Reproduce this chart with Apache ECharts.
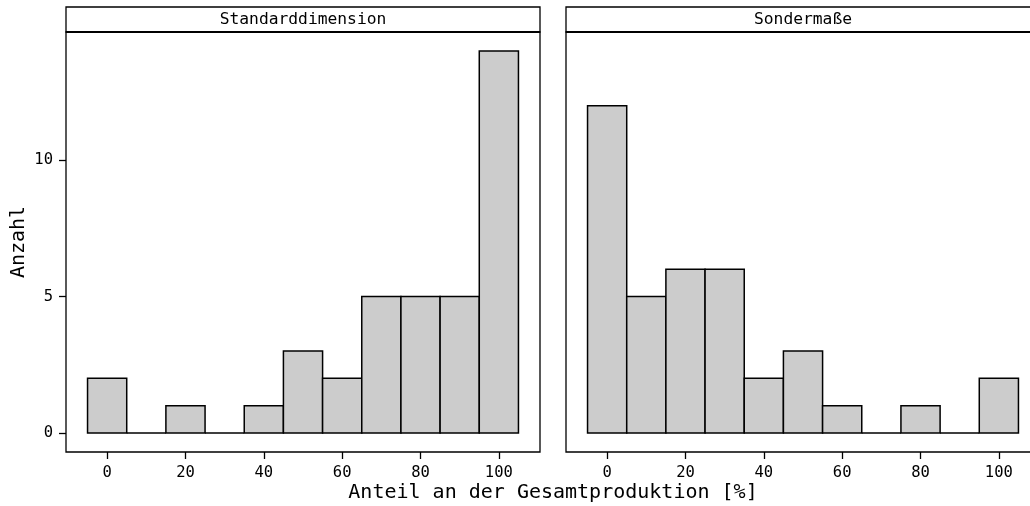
<!DOCTYPE html>
<html>
<head>
<meta charset="utf-8">
<script src="https://cdn.jsdelivr.net/npm/echarts@6/dist/echarts.min.js"></script>
<style>
  html, body { margin: 0; padding: 0; background: #fff; }
  #chart { width: 1030px; height: 506px; }
</style>
</head>
<body>
<div id="chart"></div>
<script>
// Bin centres (width 10) and counts per facet
const binCenters = [0, 10, 20, 30, 40, 50, 60, 70, 80, 90, 100];
const countsStandard = [2, 0, 1, 0, 1, 3, 2, 5, 5, 5, 14];
const countsSonder   = [12, 5, 6, 6, 2, 3, 1, 0, 1, 0, 2];
const facetTitles = ['Standarddimension', 'Sondermaße'];
const xTicks = [0, 20, 40, 60, 80, 100];
const yTicks = [0, 5, 10];
const xTitle = 'Anteil an der Gesamtproduktion [%]';
const yTitle = 'Anzahl';
const binWidth = 10;

const FONT = '"DejaVu Sans Mono", monospace';

function histData(counts) {
  return binCenters.map((c, i) => [c - binWidth / 2, c + binWidth / 2, counts[i]]);
}

function renderBar(params, api) {
  const p0 = api.coord([api.value(0), api.value(2)]);
  const p1 = api.coord([api.value(1), 0]);
  return {
    type: 'rect',
    shape: { x: p0[0], y: p0[1], width: p1[0] - p0[0], height: p1[1] - p0[1] },
    style: { fill: '#cccccc', stroke: '#000', lineWidth: 1.5 }
  };
}

// Right panel runs past the canvas edge
const panels = [
  { left: 66, right: 490 },
  { left: 566, right: -10 }
];

const grids = panels.map(p => ({
  left: p.left, right: p.right, top: 32, bottom: 54,
  show: true, borderColor: '#000', borderWidth: 1.3, backgroundColor: '#fff',
  containLabel: false,
  outerBoundsMode: 'none'
}));

const xAxes = panels.map((p, i) => ({
  type: 'value', gridIndex: i, min: -10.5, max: 110.5,
  splitLine: { show: false },
  axisLine: { show: false, onZero: false },
  axisTick: { show: true, length: 7, lineStyle: { color: '#000', width: 1.3 }, customValues: xTicks },
  axisLabel: { color: '#000', fontFamily: FONT, fontSize: 15.5, margin: 13, customValues: xTicks }
}));

const yAxes = panels.map((p, i) => ({
  type: 'value', gridIndex: i, min: -0.7, max: 14.7,
  splitLine: { show: false },
  axisLine: { show: false, onZero: false },
  axisTick: { show: i === 0, length: 7, lineStyle: { color: '#000', width: 1.3 }, customValues: yTicks },
  axisLabel: { show: i === 0, color: '#000', fontFamily: FONT, fontSize: 15.5, margin: 13, customValues: yTicks },
  name: i === 0 ? yTitle : '',
  nameLocation: 'middle',
  nameGap: 37,
  nameTextStyle: { color: '#000', fontFamily: FONT, fontSize: 20 }
}));

const series = [countsStandard, countsSonder].map((counts, i) => ({
  type: 'custom',
  xAxisIndex: i, yAxisIndex: i,
  renderItem: renderBar,
  encode: { x: [0, 1], y: 2 },
  data: histData(counts),
  silent: true
}));

// Facet strips above each panel, plus the shared x-axis title
const graphics = [];
panels.forEach((p, i) => {
  const x0 = p.left;
  const x1 = 1030 - p.right;
  graphics.push({
    type: 'rect',
    shape: { x: x0, y: 7, width: x1 - x0, height: 25 },
    style: { fill: '#fff', stroke: '#000', lineWidth: 1.3 }
  });
  graphics.push({
    type: 'line',
    shape: { x1: x0, y1: 32, x2: x1, y2: 32 },
    style: { stroke: '#000', lineWidth: 2 }
  });
  graphics.push({
    type: 'text',
    x: (x0 + x1) / 2, y: 20,
    style: { text: facetTitles[i], fill: '#000', font: '16.3px ' + FONT, align: 'center', verticalAlign: 'middle' }
  });
});
graphics.push({
  type: 'text',
  x: 553, y: 493,
  style: { text: xTitle, fill: '#000', font: '20px ' + FONT, align: 'center', verticalAlign: 'middle' }
});

const chart = echarts.init(document.getElementById('chart'), null, { renderer: 'canvas' });
chart.setOption({
  backgroundColor: '#fff',
  animation: false,
  grid: grids,
  xAxis: xAxes,
  yAxis: yAxes,
  series: series,
  graphic: graphics
});
</script>
</body>
</html>
